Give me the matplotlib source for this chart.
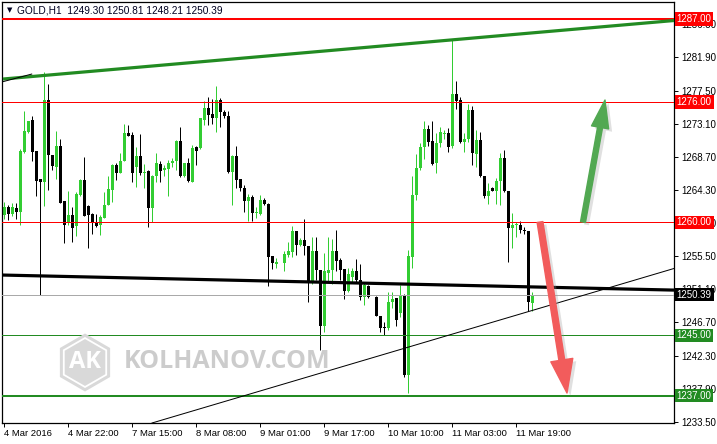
import numpy as np
import matplotlib
matplotlib.use("Agg")
import matplotlib.pyplot as plt
from matplotlib.patches import FancyArrowPatch, RegularPolygon
import matplotlib.patheffects as pe

plt.rcParams['font.family'] = ['Liberation Sans', 'DejaVu Sans']

nan = np.nan
# ---- data (hourly GOLD candles, index 0..132) ----
opens = [1261.0, 1262.0, 1261.1, 1261.9, 1261.4, 1269.3, 1272.0, 1273.6, 1269.5, 1265.8,
         1265.4, 1276.2, 1268.9, 1267.4, 1270.1, 1262.8, 1259.9, 1261.0, 1259.5, 1263.6,
         1265.6, 1262.2, 1261.1, 1260.0, 1259.6, 1260.6, 1262.3, 1264.3, 1267.6, 1266.6,
         1268.1, 1271.8, 1271.6, 1267.4, 1268.8, 1266.5, 1266.8, 1261.9, 1266.2, 1267.8,
         1267.0, 1267.1, 1267.9, 1268.1, 1270.8, 1266.1, 1267.9, 1265.4, 1270.0, 1269.9,
         1273.6, 1275.2, 1274.4, 1273.9, 1276.2, 1274.6, 1274.1, 1266.7, 1268.8, 1265.7,
         1264.6, 1262.8, 1263.3, 1261.2, 1261.1, 1263.0, 1262.5, 1255.5, 1254.5, nan,
         1254.6, 1255.7, 1256.1, 1258.8, 1257.0, 1257.7, 1256.9, 1251.9, 1256.2, 1253.7,
         1246.2, 1253.3, 1253.7, 1256.2, 1255.0, 1253.8, 1250.9, 1252.7, 1253.6, 1252.3,
         1250.1, 1251.6, nan, 1250.1, 1247.6, 1246.1, 1245.9, 1249.4, 1249.9, 1248.0,
         1250.4, 1239.7, 1255.4, 1263.6, 1267.2, 1270.0, 1272.4, 1270.8, 1267.9, 1270.6,
         1271.7, 1271.9, 1270.1, 1277.0, 1276.2, 1270.7, 1271.0, 1274.9, 1269.1, 1270.9,
         1266.2, 1263.5, 1264.6, 1264.2, 1265.5, 1268.5, 1264.1, 1259.2, 1259.6, 1259.7,
         1259.0, 1258.8, 1249.30]
highs = [1262.7, 1262.3, 1262.6, 1262.6, 1269.7, 1274.8, 1273.5, 1274.1, 1269.5, 1265.8,
         1279.9, 1278.4, 1268.9, 1272.1, 1271.1, 1262.8, 1264.1, 1262.1, 1264.0, 1265.8,
         1268.7, 1262.3, 1261.3, 1261.1, 1261.0, 1264.0, 1266.2, 1267.8, 1267.9, 1269.2,
         1273.1, 1272.9, 1272.0, 1270.0, 1271.7, 1267.8, 1266.9, 1266.3, 1269.2, 1268.2,
         1267.6, 1268.3, 1268.5, 1270.9, 1272.7, 1267.9, 1268.5, 1270.3, 1270.1, 1273.9,
         1276.1, 1276.6, 1276.4, 1278.1, 1276.5, 1274.9, 1274.8, 1268.9, 1270.1, 1265.7,
         1265.0, 1263.7, 1263.6, 1262.0, 1263.6, 1263.2, 1262.6, 1255.5, 1255.2, nan,
         1256.2, 1257.4, 1259.5, 1258.8, 1257.9, 1260.4, 1256.9, 1258.0, 1258.1, 1253.7,
         1255.9, 1258.1, 1257.8, 1259.0, 1255.2, 1253.8, 1253.9, 1253.9, 1255.1, 1254.4,
         1252.1, 1251.7, nan, 1250.2, 1247.6, 1246.7, 1250.8, 1250.8, 1249.9, 1251.7,
         1250.5, 1256.3, 1266.1, 1269.1, 1270.5, 1273.4, 1272.9, 1273.4, 1271.8, 1272.7,
         1272.3, 1272.5, 1284.2, 1278.8, 1276.6, 1271.8, 1275.7, 1275.4, 1272.3, 1272.0,
         1266.2, 1265.2, 1264.7, 1265.9, 1269.2, 1269.6, 1264.1, 1261.2, 1260.0, 1260.2,
         1259.4, 1258.8, 1250.81]
lows = [1260.5, 1260.3, 1260.8, 1260.4, 1259.6, 1269.2, 1271.8, 1268.1, 1263.5, 1250.4,
        1262.2, 1264.3, 1267.0, 1265.7, 1262.6, 1257.3, 1259.6, 1257.4, 1258.2, 1263.5,
        1260.8, 1256.6, 1258.5, 1259.4, 1258.3, 1260.6, 1262.3, 1262.7, 1265.6, 1266.5,
        1268.1, 1271.4, 1265.3, 1264.7, 1266.3, 1264.6, 1259.4, 1260.1, 1265.4, 1265.4,
        1266.2, 1263.5, 1267.4, 1267.0, 1266.0, 1266.0, 1265.3, 1265.3, 1267.6, 1269.8,
        1272.9, 1272.9, 1273.0, 1272.0, 1272.6, 1273.8, 1266.6, 1262.3, 1264.6, 1264.2,
        1261.4, 1260.2, 1260.2, 1260.6, 1261.0, 1262.3, 1251.5, 1253.8, 1254.0, nan,
        1253.5, 1255.4, 1255.4, 1255.7, 1256.8, 1255.7, 1249.4, 1251.8, 1252.4, 1243.0,
        1245.5, 1252.1, 1251.8, 1253.5, 1252.4, 1249.8, 1250.8, 1252.1, 1251.9, 1249.7,
        1249.0, 1249.9, nan, 1247.5, 1245.5, 1245.1, 1245.7, 1248.6, 1246.2, 1247.4,
        1239.4, 1237.3, 1254.0, 1262.9, 1267.0, 1268.4, 1270.1, 1267.6, 1266.6, 1270.0,
        1271.1, 1269.4, 1269.9, 1275.1, 1270.6, 1269.4, 1270.7, 1267.6, 1267.4, 1266.0,
        1263.2, 1262.5, 1264.2, 1262.5, 1262.3, 1264.0, 1254.7, 1256.6, 1258.1, 1258.6,
        1258.5, 1248.2, 1248.21]
closes = [1262.1, 1261.1, 1262.0, 1261.4, 1269.5, 1272.1, 1273.5, 1269.4, 1265.5, 1265.4,
          1276.2, 1268.9, 1267.5, 1270.1, 1262.6, 1259.7, 1261.0, 1259.2, 1263.8, 1265.6,
          1260.8, 1261.0, 1259.9, 1259.5, 1260.7, 1262.3, 1264.4, 1267.6, 1266.6, 1268.1,
          1271.8, 1271.4, 1266.5, 1268.8, 1266.5, 1266.7, 1261.9, 1266.2, 1267.9, 1266.8,
          1267.2, 1267.9, 1268.2, 1270.8, 1266.1, 1267.9, 1265.5, 1269.9, 1269.5, 1273.8,
          1275.2, 1274.3, 1273.8, 1276.2, 1274.7, 1274.1, 1266.7, 1268.8, 1265.6, 1264.6,
          1262.8, 1263.3, 1261.3, 1261.4, 1263.0, 1262.5, 1255.4, 1254.6, 1254.7, nan,
          1255.8, 1256.2, 1258.8, 1257.0, 1257.7, 1256.8, 1251.9, 1256.2, 1253.7, 1246.2,
          1253.5, 1253.7, 1256.2, 1254.9, 1253.7, 1250.9, 1253.2, 1253.6, 1252.3, 1250.1,
          1251.7, 1250.1, nan, 1247.6, 1246.0, 1245.9, 1249.4, 1249.8, 1247.0, 1250.4,
          1239.7, 1255.5, 1263.6, 1267.2, 1270.0, 1272.4, 1270.7, 1267.8, 1270.6, 1272.0,
          1271.9, 1270.0, 1277.0, 1276.1, 1270.7, 1271.0, 1274.9, 1269.2, 1270.9, 1266.2,
          1263.5, 1264.1, 1264.2, 1265.5, 1268.5, 1264.1, 1259.2, 1259.7, 1259.8, 1259.0,
          1258.8, 1249.4, 1250.39]

date_tick_bars = [0, 16, 32, 48, 64, 80, 96, 112, 128]
date_tick_labels = ["4 Mar 2016", "4 Mar 22:00", "7 Mar 15:00", "8 Mar 08:00", "9 Mar 01:00",
                    "9 Mar 17:00", "10 Mar 10:00", "11 Mar 03:00", "11 Mar 19:00"]
price_ticks = [1233.50, 1237.90, 1242.30, 1246.70, 1251.10, 1255.50, 1259.90,
               1264.30, 1268.70, 1273.10, 1277.50, 1281.90, 1286.30]

red_levels = [1287.00, 1276.00, 1260.00]
green_levels = [1245.00, 1237.00]
last_price = 1250.39
header = "GOLD,H1  1249.30 1250.81 1248.21 1250.39"

# trend lines (bar index, price)
green_channel = ([-0.25, 167.5], [1279.03, 1286.8])
black_thick = ([-0.5, 167.5], [1253.0, 1251.0])
black_small = ([-0.33, 6.93], [1278.67, 1279.69])
black_low = ([37.0, 167.5], [1233.35, 1253.87])
up_arrow = ((144.75, 1260.04), (150.25, 1276.24))
down_arrow = ((134.0, 1260.04), (140.75, 1237.33))

# ---- figure ----
W, H = 717, 444
fig = plt.figure(figsize=(W / 100, H / 100), dpi=100)
ax = fig.add_axes([2 / W, (H - 423) / H, 672 / W, 421 / H])
ax.set_xlim(-0.5, 167.5)
ax.set_ylim(1233.35, 1289.26)

o = np.array(opens); h = np.array(highs); l = np.array(lows); c = np.array(closes)
x = np.arange(len(o))
ok = ~np.isnan(o)
bull = ok & (c >= o)
bear = ok & (c < o)
px = 0.72
green_c = '#32cd32'
for m, col in [(bull, green_c), (bear, 'black')]:
    ax.vlines(x[m], l[m], h[m], colors=col, lw=px, zorder=2)
    bot = np.minimum(o[m], c[m])
    hgt = np.maximum(np.abs(c[m] - o[m]), 0.14)
    ax.bar(x[m], hgt, bottom=bot, width=0.75, color=col, edgecolor='none', zorder=2.1)

# lines
ax.axhline(last_price, color='#a9a9a9', lw=px, zorder=3)
for lv in red_levels:
    ax.axhline(lv, color='#ff0000', lw=1.45 if lv == 1287.0 else px, zorder=3)
for lv in green_levels:
    ax.axhline(lv, color='#228b22', lw=1.45 if lv == 1237.0 else px, zorder=3)
ax.plot(*green_channel, color='#228b22', lw=2.3, zorder=4, solid_capstyle='butt')
ax.plot(*black_thick, color='black', lw=2.3, zorder=4, solid_capstyle='butt')
ax.plot(*black_small, color='black', lw=px, zorder=4)
ax.plot(*black_low, color='black', lw=px, zorder=4)

shadow = [pe.SimplePatchShadow(offset=(2.5, -2), shadow_rgbFace='#999999', alpha=0.3), pe.Normal()]
ga = FancyArrowPatch(up_arrow[0], up_arrow[1],
                     arrowstyle='simple,head_length=2.0,head_width=1.25,tail_width=0.36',
                     mutation_scale=10, color='#52a852', zorder=6, shrinkA=0, shrinkB=0)
ga.set_path_effects(shadow)
ax.add_patch(ga)
ra = FancyArrowPatch(down_arrow[0], down_arrow[1],
                     arrowstyle='simple,head_length=2.4,head_width=1.6,tail_width=0.42',
                     mutation_scale=10, color='#f25c5c', zorder=6, shrinkA=0, shrinkB=0)
ra.set_path_effects(shadow)
ax.add_patch(ra)

# axes styling
for s in ax.spines.values():
    s.set_linewidth(0.9)
    s.set_color('black')
ax.yaxis.tick_right()
ax.set_yticks(price_ticks)
ax.set_yticklabels([f"{v:.2f}" for v in price_ticks])
ax.tick_params(axis='y', which='both', direction='out', length=3, width=0.7, pad=2,
               labelsize=7, colors='black')
ax.set_xticks(date_tick_bars)
ax.set_xticklabels(date_tick_labels)
ax.tick_params(axis='x', direction='out', length=3, width=0.7, pad=1.5, labelsize=6.8)
for lbl in ax.get_xticklabels():
    lbl.set_ha('left')

# level boxes on right
def level_box(val, fc):
    ax.annotate(f"{val:.2f}", xy=(1.0, val), xycoords=('axes fraction', 'data'),
                xytext=(2, 0), textcoords='offset points', ha='left', va='center',
                fontsize=7, color='white', annotation_clip=False, zorder=10,
                bbox=dict(boxstyle='square,pad=0.18', fc=fc, ec='none'))

for lv in red_levels:
    level_box(lv, '#ff0000')
for lv in green_levels:
    level_box(lv, '#228b22')
level_box(last_price, 'black')

# header
fig.text(9.5 / W, 1 - 10.5 / H, '\u25bc', fontsize=5, ha='center', va='center',
         family=['DejaVu Sans'], color='#000020')
fig.text(17 / W, 1 - 10.5 / H, header, fontsize=7.3, ha='left', va='center', color='#000020')

# watermark
hexo = RegularPolygon((85 / 100, (H - 362.5) / 100), numVertices=6, radius=0.29,
                      orientation=0, transform=fig.dpi_scale_trans,
                      fc='#d9d9d9', ec='none', zorder=5)
hexi = RegularPolygon((85 / 100, (H - 362.5) / 100), numVertices=6, radius=0.245,
                      orientation=0, transform=fig.dpi_scale_trans,
                      fc='#d9d9d9', ec='white', lw=1.3, zorder=5.1)
fig.patches.extend([hexo, hexi])
fig.text(85 / W, 1 - 362 / H, 'AK', fontsize=17, fontweight='bold', color='white',
         ha='center', va='center', family=['Open Sans', 'DejaVu Sans'], zorder=6)
fig.text(124 / W, 1 - 361 / H, 'KOLHANOV.COM', fontsize=18, fontweight='bold',
         color='#cccccc', ha='left', va='center', family=['Open Sans', 'DejaVu Sans'], zorder=6)

fig.savefig('out.png', dpi=100, facecolor='white')
